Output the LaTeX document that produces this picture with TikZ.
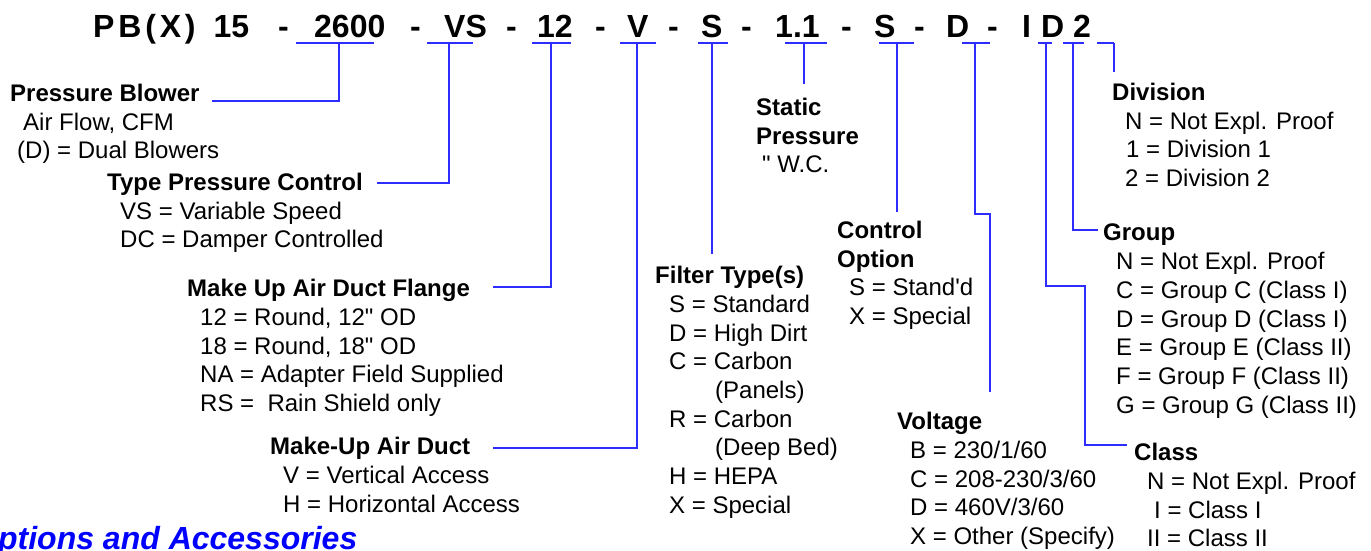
\documentclass[tikz,border=0pt]{standalone}
\usepackage{fontspec}
\setmainfont{Liberation Sans}
\definecolor{lineblue}{RGB}{45,45,255}
\definecolor{optblue}{RGB}{0,0,255}
\tikzset{
  codetxt/.style={font=\bfseries\fontsize{32}{36}\selectfont,anchor=base west,inner sep=0pt},
  keyblock/.style={font=\fontsize{24}{28.7}\selectfont,align=left,anchor=north west,inner sep=0pt},
  lnk/.style={draw=lineblue,line width=1.3pt},
}
\newcommand{\ind}[1]{\hspace*{#1pt}}

\begin{document}
\begin{tikzpicture}[x=1pt,y=-1pt]
  \useasboundingbox (0,0) rectangle (1371,550);
  \clip (0,0) rectangle (1371,550);

  % model code
  \node [codetxt] (tpb) at (93,37) {{\addfontfeature{LetterSpace=12}PB(X)}\hspace{18pt}15};
  \node [codetxt] (m1) at (278,37) {-};
  \node [codetxt] (t2600) at (314,37) {2600};
  \node [codetxt] (m2) at (410,37) {-};
  \node [codetxt] (tvs) at (444,37) {VS};
  \node [codetxt] (m3) at (506,37) {-};
  \node [codetxt] (t12) at (537,37) {12};
  \node [codetxt] (m4) at (595,37) {-};
  \node [codetxt] (tv) at (627,37) {V};
  \node [codetxt] (m5) at (668,37) {-};
  \node [codetxt] (tfs) at (701,37) {S};
  \node [codetxt] (m6) at (741,37) {-};
  \node [codetxt] (t11) at (775,37) {1.1};
  \node [codetxt] (m7) at (841,37) {-};
  \node [codetxt] (tcs) at (874,37) {S};
  \node [codetxt] (m8) at (914,37) {-};
  \node [codetxt] (tvd) at (946,37) {D};
  \node [codetxt] (m9) at (987,37) {-};
  \node [codetxt] (tci) at (1022,37) {I};
  \node [codetxt] (tgd) at (1041,37) {D};
  \node [codetxt] (tdn) at (1073,37) {2};

  % legends
  \node [keyblock] (pb) at (10,84) {\textbf{Pressure Blower}\\\ind{13}Air Flow, CFM\\\ind{7}(D) = Dual Blowers};
  \node [keyblock] (tpc) at (107,173) {\textbf{Type Pressure Control}\\\ind{13}VS = Variable Speed\\\ind{13}DC = Damper Controlled};
  \node [keyblock] (flange) at (187,279) {\textbf{Make Up Air Duct Flange}\\\ind{13}12 = Round, 12\textquotedbl{} OD\\\ind{13}18 = Round, 18\textquotedbl{} OD\\\ind{13}NA = Adapter Field Supplied\\\ind{13}RS = \ Rain Shield only};
  \node [keyblock] (duct) at (270,437) {\textbf{Make-Up Air Duct}\\\ind{13}V = Vertical Access\\\ind{13}H = Horizontal Access};
  \node [keyblock] (filter) at (655,266) {\textbf{Filter Type(s)}\\\ind{14}S = Standard\\\ind{14}D = High Dirt\\\ind{14}C = Carbon\\\ind{60}(Panels)\\\ind{14}R = Carbon\\\ind{60}(Deep Bed)\\\ind{14}H = HEPA\\\ind{14}X = Special};
  \node [keyblock] (static) at (756,98) {\textbf{Static}\\\textbf{Pressure}\\\ind{6}\textquotedbl{} W.C.};
  \node [keyblock] (ctrl) at (837,221) {\textbf{Control}\\\textbf{Option}\\\ind{12}S = Stand\textquotesingle d\\\ind{12}X = Special};
  \node [keyblock] (volt) at (897,412) {\textbf{Voltage}\\\ind{13}B = 230/1/60\\\ind{13}C = 208-230/3/60\\\ind{13}D = 460V/3/60\\\ind{13}X = Other (Specify)};
  \node [keyblock] (div) at (1112,83) {\textbf{Division}\\\ind{13}N = Not Expl. Proof\\\ind{14}1 = Division 1\\\ind{13}2 = Division 2};
  \node [keyblock] (grp) at (1103,224) {\textbf{Group}\\\ind{13}N = Not Expl. Proof\\\ind{13}C = Group C (Class I)\\\ind{13}D = Group D (Class I)\\\ind{13}E = Group E (Class II)\\\ind{13}F = Group F (Class II)\\\ind{13}G = Group G (Class II)};
  \node [keyblock] (cls) at (1134,443) {\textbf{Class}\\\ind{13}N = Not Expl. Proof\\\ind{20}I = Class I\\\ind{13}II = Class II};

  \node [font=\bfseries\itshape\fontsize{32}{36}\selectfont,text=optblue,anchor=base west,inner sep=0pt] (opts) at (-27,549) {Options and Accessories};

  % leader points
  \coordinate (k1) at (339,43);  \coordinate (e1) at (212,101);
  \coordinate (k2) at (449,43);  \coordinate (e2) at (377,183);
  \coordinate (k3) at (551,43);  \coordinate (e3) at (493,287);
  \coordinate (k4) at (637,43);  \coordinate (e4) at (493,448);
  \coordinate (k5) at (712,43);  \coordinate (e5) at (712,254);
  \coordinate (k6) at (804,43);  \coordinate (e6) at (804,84);
  \coordinate (k7) at (897,43);  \coordinate (e7) at (897,212);
  \coordinate (k8) at (975,43);  \coordinate (j8) at (990,214);  \coordinate (e8) at (990,392);
  \coordinate (k9) at (1046,43); \coordinate (j9) at (1085,286); \coordinate (e9) at (1127,445);
  \coordinate (k10) at (1073,43); \coordinate (e10) at (1098,230);
  \coordinate (k11) at (1114,43); \coordinate (e11) at (1114,72);

  % underlines
  \draw [lnk] ([xshift=-43pt]k1) -- ([xshift=35pt]k1);
  \draw [lnk] ([xshift=-22pt]k2) -- ([xshift=24pt]k2);
  \draw [lnk] ([xshift=-19pt]k3) -- ([xshift=20pt]k3);
  \draw [lnk] ([xshift=-17pt]k4) -- ([xshift=19pt]k4);
  \draw [lnk] ([xshift=-14pt]k5) -- ([xshift=16pt]k5);
  \draw [lnk] ([xshift=-19pt]k6) -- ([xshift=23pt]k6);
  \draw [lnk] ([xshift=-18pt]k7) -- ([xshift=17pt]k7);
  \draw [lnk] ([xshift=-13pt]k8) -- ([xshift=15pt]k8);
  \draw [lnk] ([xshift=-8pt]k9) -- ([xshift=6pt]k9);
  \draw [lnk] ([xshift=-10pt]k10) -- ([xshift=11pt]k10);
  \draw [lnk] ([xshift=-17pt]k11) -- (k11);

  % leaders
  \draw [lnk] (k1) |- (e1);
  \draw [lnk] (k2) |- (e2);
  \draw [lnk] (k3) |- (e3);
  \draw [lnk] (k4) |- (e4);
  \draw [lnk] (k5) -- (e5);
  \draw [lnk] (k6) -- (e6);
  \draw [lnk] (k7) -- (e7);
  \draw [lnk] (k8) |- (j8) -- (e8);
  \draw [lnk] (k9) |- (j9) |- (e9);
  \draw [lnk] (k10) |- (e10);
  \draw [lnk] (k11) -- (e11);
\end{tikzpicture}
\end{document}
